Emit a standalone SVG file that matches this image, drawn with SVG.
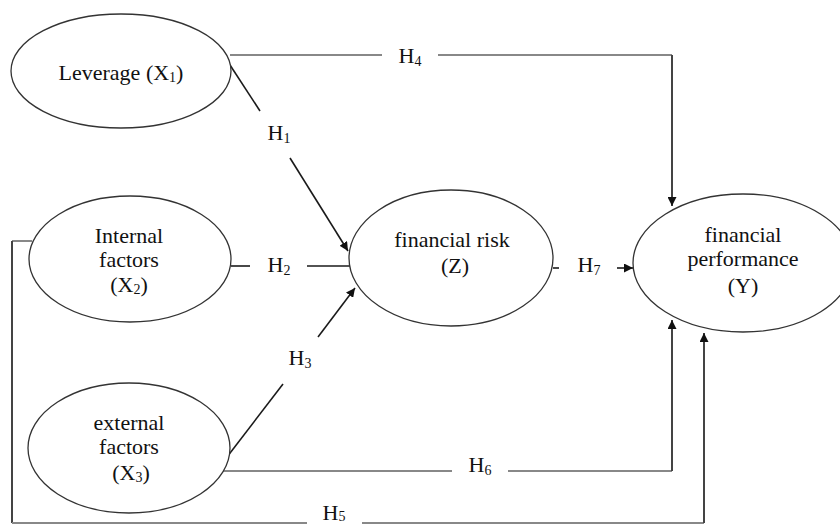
<svg xmlns="http://www.w3.org/2000/svg" width="840" height="526" viewBox="0 0 840 526">
<style>
.node ellipse{fill:#fff;stroke:#333;stroke-width:1.3}
text{font-family:"Liberation Serif","Times New Roman",serif;font-size:22px;fill:#111;text-anchor:middle}
.sub{font-size:14px}
.h{fill:none;stroke:#888;stroke-width:2}
.v{fill:none;stroke:#444;stroke-width:2}
.d{fill:none;stroke:#1a1a1a;stroke-width:1.6}
</style>
<defs>
<marker id="arr" viewBox="0 0 10 10" refX="10" refY="5" markerWidth="9" markerHeight="9" markerUnits="userSpaceOnUse" orient="auto">
<path d="M0,0 L10,5 L0,10 z" fill="#111"/>
</marker>
</defs>
<rect width="840" height="526" fill="#fff"/>
<g id="connectors">
<!-- H4 -->
<path class="h" d="M230,55 L382,55"/>
<path class="h" d="M438,55 L672,55"/>
<path class="v" d="M672,55 L672,206" marker-end="url(#arr)"/>
<!-- H1 -->
<path class="d" d="M230,65 L260,111"/>
<path class="d" d="M290,158 L348,251" marker-end="url(#arr)"/>
<!-- H2 -->
<path class="d" d="M231,266 L250,266"/>
<path class="d" d="M307,266 L350,266"/>
<!-- H3 -->
<path class="d" d="M227,457 L283,384"/>
<path class="d" d="M318,337 L355,288" marker-end="url(#arr)"/>
<!-- H7 -->
<path class="d" d="M553,268 L559,268"/>
<path class="d" d="M617,268 L633,268" marker-end="url(#arr)"/>
<!-- H6 -->
<path class="h" d="M223,471 L452,471"/>
<path class="h" d="M508,471 L672,471"/>
<path class="v" d="M672,471 L672,320" marker-end="url(#arr)"/>
<!-- H5 -->
<path class="h" d="M32,241 L12,241"/>
<path class="v" d="M12,241 L12,523"/>
<path class="h" d="M12,523 L307,523"/>
<path class="h" d="M362,523 L704,523"/>
<path class="v" d="M704,523 L704,333" marker-end="url(#arr)"/>
</g>
<g id="labels">
<text x="410" y="63">H<tspan class="sub" dy="3">4</tspan></text>
<text x="279" y="140">H<tspan class="sub" dy="3">1</tspan></text>
<text x="279" y="272">H<tspan class="sub" dy="3">2</tspan></text>
<text x="300" y="365">H<tspan class="sub" dy="3">3</tspan></text>
<text x="589" y="272">H<tspan class="sub" dy="3">7</tspan></text>
<text x="480" y="472">H<tspan class="sub" dy="3">6</tspan></text>
<text x="334" y="520">H<tspan class="sub" dy="1">5</tspan></text>
</g>
<g id="x1" class="node">
<ellipse cx="121" cy="71" rx="110" ry="57"/>
<text x="121" y="80">Leverage (X<tspan class="sub" dy="2">1</tspan><tspan dy="-2">)</tspan></text>
</g>
<g id="x2" class="node">
<ellipse cx="130" cy="259" rx="101" ry="63"/>
<text x="129" y="243">Internal</text>
<text x="129" y="267">factors</text>
<text x="129" y="292">(X<tspan class="sub" dy="2">2</tspan><tspan dy="-2">)</tspan></text>
</g>
<g id="x3" class="node">
<ellipse cx="129" cy="448" rx="101" ry="65"/>
<text x="129" y="430">external</text>
<text x="129" y="454">factors</text>
<text x="131" y="480">(X<tspan class="sub" dy="2">3</tspan><tspan dy="-2">)</tspan></text>
</g>
<g id="z" class="node">
<ellipse cx="451" cy="258" rx="102" ry="68"/>
<text x="452" y="247">financial risk</text>
<text x="455" y="273">(Z)</text>
</g>
<g id="y" class="node">
<ellipse cx="743" cy="263" rx="110" ry="69"/>
<text x="743" y="242">financial</text>
<text x="743" y="266">performance</text>
<text x="743" y="293">(Y)</text>
</g>
</svg>
